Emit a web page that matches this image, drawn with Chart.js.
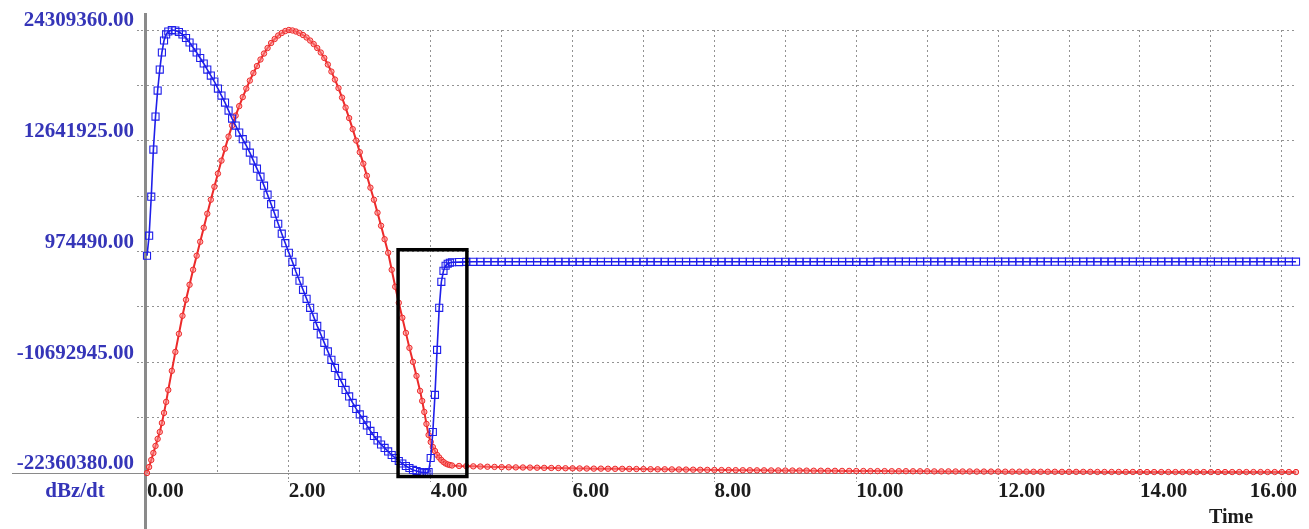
<!DOCTYPE html>
<html>
<head>
<meta charset="utf-8">
<title>dBz/dt</title>
<script src="https://cdn.jsdelivr.net/npm/chart.js@4.4.1/dist/chart.umd.min.js"></script>
<style>
  html, body { margin: 0; padding: 0; background: #fff; }
</style>
</head>
<body>
<canvas id="myChart" width="1309" height="529"></canvas>
<script>
// sample times
var time = [
  0, 0.03, 0.06, 0.09, 0.12, 0.15, 0.18, 0.21, 0.24, 0.27,
  0.3, 0.35, 0.4, 0.45, 0.5, 0.55, 0.6, 0.65, 0.7, 0.75,
  0.8, 0.85, 0.9, 0.95, 1, 1.05, 1.1, 1.15, 1.2, 1.25,
  1.3, 1.35, 1.4, 1.45, 1.5, 1.55, 1.6, 1.65, 1.7, 1.75,
  1.8, 1.85, 1.9, 1.95, 2, 2.05, 2.1, 2.15, 2.2, 2.25,
  2.3, 2.35, 2.4, 2.45, 2.5, 2.55, 2.6, 2.65, 2.7, 2.75,
  2.8, 2.85, 2.9, 2.95, 3, 3.05, 3.1, 3.15, 3.2, 3.25,
  3.3, 3.35, 3.4, 3.45, 3.5, 3.55, 3.6, 3.65, 3.7, 3.75,
  3.8, 3.85, 3.88, 3.91, 3.94, 3.97, 4, 4.03, 4.06, 4.09,
  4.12, 4.15, 4.18, 4.21, 4.24, 4.27, 4.3, 4.4, 4.5, 4.6,
  4.7, 4.8, 4.9, 5, 5.1, 5.2, 5.3, 5.4, 5.5, 5.6,
  5.7, 5.8, 5.9, 6, 6.1, 6.2, 6.3, 6.4, 6.5, 6.6,
  6.7, 6.8, 6.9, 7, 7.1, 7.2, 7.3, 7.4, 7.5, 7.6,
  7.7, 7.8, 7.9, 8, 8.1, 8.2, 8.3, 8.4, 8.5, 8.6,
  8.7, 8.8, 8.9, 9, 9.1, 9.2, 9.3, 9.4, 9.5, 9.6,
  9.7, 9.8, 9.9, 10, 10.1, 10.2, 10.3, 10.4, 10.5, 10.6,
  10.7, 10.8, 10.9, 11, 11.1, 11.2, 11.3, 11.4, 11.5, 11.6,
  11.7, 11.8, 11.9, 12, 12.1, 12.2, 12.3, 12.4, 12.5, 12.6,
  12.7, 12.8, 12.9, 13, 13.1, 13.2, 13.3, 13.4, 13.5, 13.6,
  13.7, 13.8, 13.9, 14, 14.1, 14.2, 14.3, 14.4, 14.5, 14.6,
  14.7, 14.8, 14.9, 15, 15.1, 15.2, 15.3, 15.4, 15.5, 15.6,
  15.7, 15.8, 15.9, 16, 16.1, 16.2
];

// blue trace (squares), millions
var blueTrace = [
  0.53, 2.64, 6.75, 11.71, 15.19, 17.93, 20.14, 21.94, 23.20, 23.84,
  24.15, 24.31, 24.26, 24.10, 23.84, 23.47, 22.99, 22.46, 21.94, 21.36,
  20.78, 20.14, 19.51, 18.88, 18.14, 17.40, 16.66, 15.82, 14.98, 14.24,
  13.50, 12.81, 12.13, 11.39, 10.55, 9.70, 8.86, 7.91, 6.96, 5.96,
  4.96, 3.90, 2.85, 1.85, 0.84, -0.11, -1.16, -2.11, -3.06, -4.01,
  -4.96, -5.91, -6.86, -7.75, -8.65, -9.55, -10.44, -11.29, -12.13, -12.87,
  -13.61, -14.29, -14.98, -15.61, -16.19, -16.77, -17.35, -17.93, -18.46, -18.93,
  -19.36, -19.72, -20.09, -20.46, -20.78, -21.10, -21.36, -21.62, -21.83, -22.04,
  -22.15, -22.26, -22.31, -22.31, -22.36, -22.26, -20.78, -18.04, -14.13, -9.39,
  -4.96, -2.22, -1.06, -0.53, -0.32, -0.21, -0.16, -0.14, -0.12, -0.11,
  -0.11, -0.11, -0.11, -0.11, -0.11, -0.11, -0.11, -0.11, -0.11, -0.11,
  -0.11, -0.11, -0.11, -0.11, -0.11, -0.11, -0.11, -0.11, -0.11, -0.11,
  -0.11, -0.11, -0.11, -0.11, -0.11, -0.11, -0.11, -0.11, -0.11, -0.11,
  -0.11, -0.11, -0.11, -0.11, -0.11, -0.11, -0.11, -0.11, -0.11, -0.11,
  -0.11, -0.11, -0.11, -0.11, -0.11, -0.11, -0.11, -0.11, -0.11, -0.11,
  -0.11, -0.11, -0.11, -0.11, -0.11, -0.11, -0.10, -0.10, -0.10, -0.10,
  -0.10, -0.10, -0.10, -0.10, -0.10, -0.10, -0.10, -0.10, -0.10, -0.10,
  -0.10, -0.10, -0.10, -0.10, -0.10, -0.10, -0.10, -0.10, -0.10, -0.10,
  -0.10, -0.10, -0.10, -0.10, -0.10, -0.10, -0.10, -0.10, -0.10, -0.10,
  -0.10, -0.10, -0.10, -0.10, -0.10, -0.10, -0.10, -0.10, -0.10, -0.10,
  -0.10, -0.10, -0.10, -0.10, -0.10, -0.10, -0.10, -0.10, -0.10, -0.10,
  -0.10, -0.10, -0.10, -0.10, -0.10, -0.10
];

// red trace (circles), millions
var redTrace = [
  -22.36, -21.73, -20.99, -20.25, -19.51, -18.77, -18.04, -17.09, -16.03, -14.87,
  -13.61, -11.60, -9.60, -7.70, -5.80, -4.11, -2.53, -0.95, 0.53, 2.00,
  3.48, 4.96, 6.43, 7.80, 9.18, 10.55, 11.81, 13.08, 14.24, 15.29,
  16.29, 17.24, 18.14, 18.98, 19.78, 20.51, 21.20, 21.83, 22.41, 22.94,
  23.36, 23.73, 23.99, 24.20, 24.31, 24.26, 24.15, 23.99, 23.78, 23.52,
  23.20, 22.83, 22.41, 21.94, 21.36, 20.67, 19.93, 19.09, 18.19, 17.19,
  16.14, 15.03, 13.87, 12.66, 11.44, 10.23, 8.96, 7.70, 6.43, 5.06,
  3.69, 2.27, 0.84, -0.95, -2.74, -4.43, -6.01, -7.60, -9.18, -10.65,
  -12.13, -13.71, -14.77, -15.93, -17.19, -18.35, -19.09, -19.62, -20.04, -20.46,
  -20.73, -20.99, -21.20, -21.36, -21.46, -21.52, -21.57, -21.62, -21.64, -21.66,
  -21.68, -21.70, -21.72, -21.74, -21.76, -21.77, -21.78, -21.79, -21.80, -21.82,
  -21.83, -21.84, -21.86, -21.87, -21.88, -21.89, -21.90, -21.90, -21.91, -21.92,
  -21.92, -21.93, -21.94, -21.95, -21.96, -21.97, -21.97, -21.98, -21.99, -22.00,
  -22.01, -22.02, -22.03, -22.04, -22.05, -22.05, -22.06, -22.07, -22.07, -22.08,
  -22.08, -22.09, -22.09, -22.10, -22.10, -22.11, -22.11, -22.12, -22.12, -22.13,
  -22.13, -22.14, -22.14, -22.15, -22.15, -22.16, -22.16, -22.16, -22.17, -22.17,
  -22.17, -22.18, -22.18, -22.18, -22.19, -22.19, -22.19, -22.20, -22.20, -22.20,
  -22.21, -22.21, -22.21, -22.21, -22.22, -22.22, -22.22, -22.22, -22.23, -22.23,
  -22.23, -22.23, -22.24, -22.24, -22.24, -22.24, -22.24, -22.25, -22.25, -22.25,
  -22.25, -22.25, -22.25, -22.26, -22.26, -22.26, -22.26, -22.26, -22.26, -22.26,
  -22.26, -22.26, -22.26, -22.26, -22.26, -22.26, -22.26, -22.26, -22.26, -22.26,
  -22.26, -22.26, -22.26, -22.26, -22.26, -22.26
];

// axes
var yGrid = [-22360380, -16526662.5, -10692945, -4859227.5, 974490, 6808207.5, 12641925, 18475642.5, 24309360];
var yTickValues = [24309360, 12641925, 974490, -10692945, -22360380];
var yTickLabels = ["24309360.00", "12641925.00", "974490.00", "-10692945.00", "-22360380.00"];
var xGrid = [0, 1, 2, 3, 4, 5, 6, 7, 8, 9, 10, 11, 12, 13, 14, 15, 16];
var xTickValues = [0, 2, 4, 6, 8, 10, 12, 14, 16];
var xTickLabels = ["0.00", "2.00", "4.00", "6.00", "8.00", "10.00", "12.00", "14.00", "16.00"];

// highlighted window (time, value)
var boxTime = [3.54, 4.51];
var boxValue = [1160000, -22730000];

if (time.length !== blueTrace.length || time.length !== redTrace.length) {
  console.warn("length mismatch", time.length, blueTrace.length, redTrace.length);
}

var serif = "'Liberation Serif', 'Times New Roman', serif";
var blue = "#1f1fea";
var red = "#ec2a2a";
var gridGray = "#939393";

function toPoints(vals) {
  return time.map(function (t, i) { return { x: t, y: vals[i] * 1e6 }; });
}

var framePlugin = {
  id: "frame",
  beforeDatasetsDraw: function (chart) {
    var c = chart.ctx, a = chart.chartArea;
    c.save();
    c.strokeStyle = "#8a8a8a";
    c.lineWidth = 1.2;
    c.beginPath();
    c.moveTo(12, a.bottom + 0.5);
    c.lineTo(a.right, a.bottom + 0.5);
    c.stroke();
    c.lineWidth = 3;
    c.beginPath();
    c.moveTo(a.left - 1.5, 13);
    c.lineTo(a.left - 1.5, chart.height);
    c.stroke();
    c.restore();
  },
  afterDatasetsDraw: function (chart) {
    var c = chart.ctx, xs = chart.scales.x, ys = chart.scales.y;
    var l = xs.getPixelForValue(boxTime[0]), r = xs.getPixelForValue(boxTime[1]);
    var t = ys.getPixelForValue(boxValue[0]), b = ys.getPixelForValue(boxValue[1]);
    c.save();
    c.strokeStyle = "#000";
    c.lineWidth = 3.5;
    c.strokeRect(l, t, r - l, b - t);
    c.restore();
  },
  afterDraw: function (chart) {
    var c = chart.ctx, xs = chart.scales.x;
    c.save();
    c.font = "bold 21px " + serif;
    c.textBaseline = "middle";
    c.textAlign = "left";
    c.fillStyle = "#1c1c1c";
    xTickValues.forEach(function (v, i) {
      var w = c.measureText(xTickLabels[i]).width;
      var px = Math.min(xs.getPixelForValue(v), chart.width - w - 12);
      c.fillText(xTickLabels[i], px, 492);
    });
    c.textAlign = "center";
    c.fillStyle = "#3535b8";
    c.fillText("dBz/dt", 75, 492);
    c.font = "bold 20px " + serif;
    c.fillStyle = "#1c1c1c";
    c.fillText("Time", 1231, 518);
    c.restore();
  }
};

var ctx = document.getElementById("myChart");
var myChart = new Chart(ctx, {
  type: "line",
  data: {
    datasets: [
      {
        label: "blue",
        data: toPoints(blueTrace),
        borderColor: blue,
        borderWidth: 1.6,
        pointStyle: "rect",
        pointRadius: 5,
        pointBorderWidth: 1.1,
        pointBorderColor: blue,
        pointBackgroundColor: "rgba(255,255,255,0)",
        tension: 0,
        clip: false
      },
      {
        label: "red",
        data: toPoints(redTrace),
        borderColor: red,
        borderWidth: 2,
        pointStyle: "circle",
        pointRadius: 2.7,
        pointBorderWidth: 1,
        pointBorderColor: red,
        pointBackgroundColor: "rgba(255,140,140,0.55)",
        tension: 0,
        clip: false
      }
    ]
  },
  options: {
    responsive: false,
    animation: false,
    layout: { padding: { top: 30, right: 13, left: 0, bottom: 0 } },
    plugins: { legend: { display: false }, tooltip: { enabled: false } },
    scales: {
      x: {
        type: "linear",
        min: 0,
        max: 16.2,
        afterBuildTicks: function (s) { s.ticks = xGrid.map(function (v) { return { value: v }; }); },
        afterFit: function (s) { s.height = 56; },
        ticks: { display: false },
        border: { display: false, dash: [2, 3] },
        grid: {
          color: function (c) { return c.tick && c.tick.value === 0 ? "rgba(0,0,0,0)" : gridGray; },
          lineWidth: 1,
          tickLength: 9,
          tickBorderDash: [2, 2],
          tickColor: function (c) { return c.tick && c.tick.value % 2 === 0 && c.tick.value !== 0 ? gridGray : "rgba(0,0,0,0)"; }
        }
      },
      y: {
        min: -22360380,
        max: 24309360,
        afterBuildTicks: function (s) { s.ticks = yGrid.map(function (v) { return { value: v }; }); },
        afterFit: function (s) { s.width = 147; },
        border: { display: false, dash: [2, 3] },
        grid: {
          color: function (c) { return c.tick && c.tick.value === -22360380 ? "rgba(0,0,0,0)" : gridGray; },
          lineWidth: 1,
          tickLength: 10,
          tickBorderDash: [2, 2],
          tickColor: gridGray
        },
        ticks: {
          autoSkip: false,
          padding: 3,
          labelOffset: -9,
          color: "#3535b8",
          font: { family: serif, size: 21, weight: "bold" },
          callback: function (v) {
            var i = yTickValues.indexOf(v);
            return i >= 0 ? yTickLabels[i] : "";
          }
        }
      }
    }
  },
  plugins: [framePlugin]
});
</script>
</body>
</html>
